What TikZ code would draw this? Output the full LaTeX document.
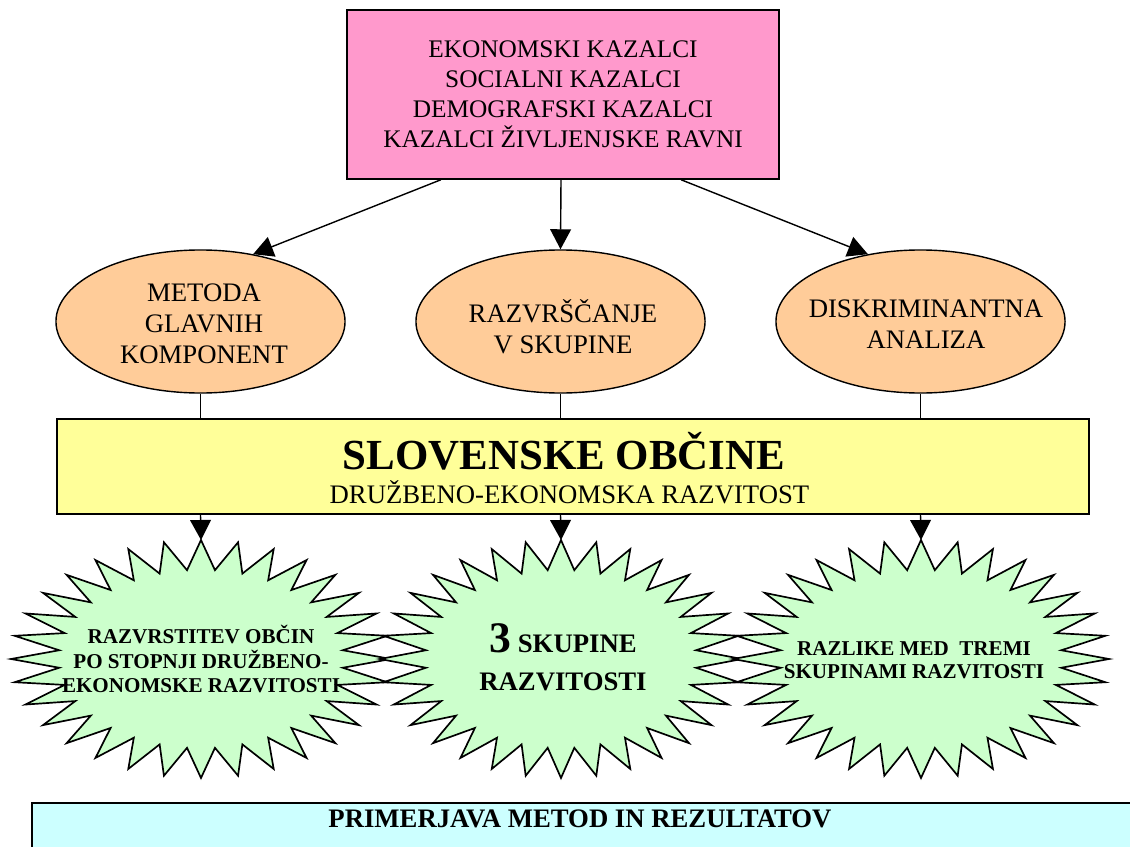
\documentclass[tikz,border=0pt]{standalone}
\usepackage{fontspec}
\setmainfont{Liberation Serif}
\usetikzlibrary{shapes.geometric,arrows.meta,positioning}

\definecolor{roza}{HTML}{FF99CC}
\definecolor{oranzna}{HTML}{FFCC99}
\definecolor{rumena}{HTML}{FFFF99}
\definecolor{zelena}{HTML}{CCFFCC}
\definecolor{modra}{HTML}{CCFFFF}

% 32-point star: centre x, centre y, radius x, radius y
\newcommand{\zvezda}[4]{%
  \filldraw[zvezdica] plot[domain=0:63,samples=64,variable=\k]
    ({#1+#3*ifthenelse(mod(round(\k),2)==0,1,0.75)*cos(90+5.625*\k)},
     {#2-#4*ifthenelse(mod(round(\k),2)==0,1,0.75)*sin(90+5.625*\k)}) -- cycle;}

\begin{document}
\begin{tikzpicture}[x=0.025cm,y=-0.025cm,line width=1pt,
kazbox/.style={draw,rectangle,fill=roza,minimum width=10.8cm,minimum height=4.225cm,align=center,font=\fontsize{18}{21.3}\selectfont},
metoda/.style={draw,ellipse,fill=oranzna,inner sep=0pt,minimum width=7.225cm,minimum height=3.575cm},
metext/.style={align=center,font=\fontsize{19}{22}\selectfont},
obcbox/.style={draw,rectangle,fill=rumena,minimum width=25.8cm,minimum height=2.375cm},
primbox/.style={draw,rectangle,fill=modra,line width=1.4pt,minimum width=27.55cm,minimum height=1.6cm},
zvezdica/.style={draw,fill=zelena,line width=1.2pt,line join=miter},
zvtext/.style={align=center,font=\fontsize{15}{17.5}\selectfont\bfseries},
puscica/.style={-{Triangle[length=5mm,width=5.2mm]}}]

\useasboundingbox (0,0) rectangle (1130,847);
\clip (0,0) rectangle (1130,847);

\draw (563,94.5) node[kazbox] (kazalci) {EKONOMSKI KAZALCI\\SOCIALNI KAZALCI\\DEMOGRAFSKI KAZALCI\\KAZALCI ŽIVLJENJSKE RAVNI};

\draw (200.5,321.5) node[metoda] (glavne) {};
\draw (560.5,321.5) node[metoda] (skupine) {};
\draw (920.5,321.5) node[metoda] (diskrim) {};
\draw (204,324) node[metext] (glavnet) {METODA\\GLAVNIH\\KOMPONENT};
\draw (563,327) node[metext] (skupinet) {RAZVRŠČANJE\\V SKUPINE};
\draw (926,324) node[metext] (diskrimt) {DISKRIMINANTNA\\ANALIZA};

\draw[puscica] ([xshift=-3.05cm]kazalci.south) -- (glavne.52);
\draw[puscica] ([xshift=-0.05cm]kazalci.south) -- (skupine.north);
\draw[puscica] ([xshift=2.95cm]kazalci.south) -- (diskrim.128);

\draw (573,466.5) node[obcbox] (obcine) {};
\draw (564,469) node[anchor=base,font=\fontsize{30.5}{31}\selectfont\bfseries] (naslov) {SLOVENSKE OBČINE};
\draw (569.5,503) node[anchor=base,font=\fontsize{19}{19}\selectfont] (razvitost) {DRUŽBENO-EKONOMSKA RAZVITOST};

\draw (glavne.south) -- (glavne.south |- obcine.north);
\draw (skupine.south) -- (skupine.south |- obcine.north);
\draw (diskrim.south) -- (diskrim.south |- obcine.north);

% stars
\zvezda{201}{659}{190}{119}
\zvezda{561}{659}{181}{119}
\zvezda{921}{659}{188}{119}
\coordinate (vrh1) at (201,540);
\coordinate (vrh2) at (561,540);
\coordinate (vrh3) at (921,540);

\draw[puscica] (glavne.south |- obcine.south) -- (vrh1);
\draw[puscica] (skupine.south |- obcine.south) -- (vrh2);
\draw[puscica] (diskrim.south |- obcine.south) -- (vrh3);

\draw (201,659) node[zvtext] (razvrstitev) {RAZVRSTITEV OBČIN\\PO STOPNJI DRUŽBENO-\\EKONOMSKE RAZVITOSTI};
\draw (563,657) node[align=center,font=\fontsize{19}{27}\selectfont\bfseries] (trije) {{\fontsize{31}{31}\selectfont 3} SKUPINE\\RAZVITOSTI};
\draw (914,660) node[zvtext,font=\fontsize{15}{16.5}\selectfont\bfseries] (razlike) {RAZLIKE MED~~TREMI\\SKUPINAMI RAZVITOSTI};

\draw (583,835) node[primbox] (primerjava) {};
\draw (580,827) node[anchor=base,font=\fontsize{19}{19}\selectfont\bfseries] (primtext) {PRIMERJAVA METOD IN REZULTATOV};
\end{tikzpicture}
\end{document}
